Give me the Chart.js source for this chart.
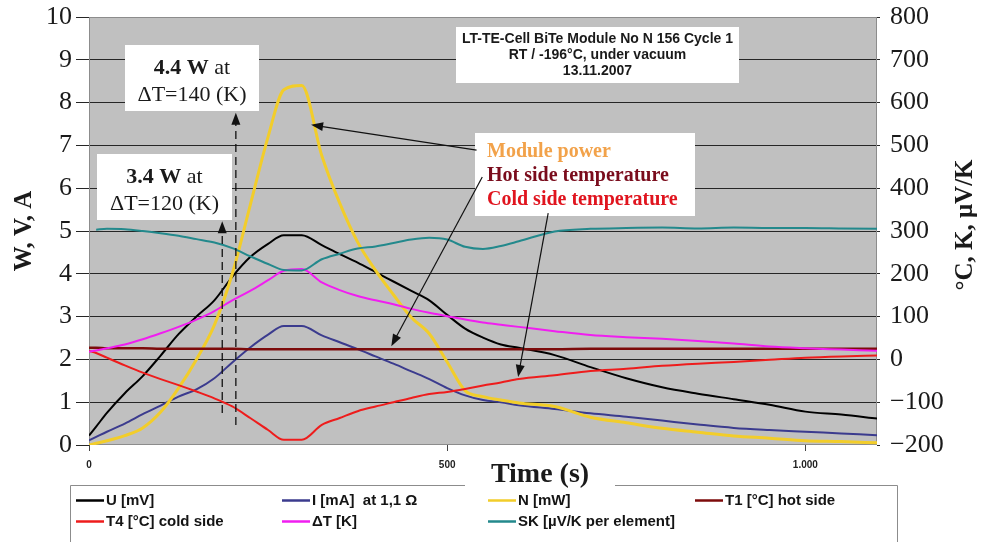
<!DOCTYPE html>
<html>
<head>
<meta charset="utf-8">
<title>LT-TE-Cell BiTe Module No N 156 Cycle 1</title>
<script src="https://cdn.jsdelivr.net/npm/chart.js@4.4.1/dist/chart.umd.min.js"></script>
<style>
  html, body { margin: 0; padding: 0; background: #fff; }
  canvas { display: block; }
</style>
</head>
<body>
<canvas id="chart" width="991" height="542"></canvas>
<script>
"use strict";

// Time (s) shared by every curve
const times = [0, 10, 25, 50, 75, 100, 125, 150, 175, 200, 225, 250, 272, 297, 325, 350, 375, 400,
    425, 450, 475, 500, 525, 550, 575, 600, 650, 700, 750, 800, 850, 900, 950, 1000, 1050, 1100];

// Left axis (W, V, A)
const uMV = [0.22, 0.43, 0.75, 1.21, 1.61, 2.09, 2.59, 3.0, 3.38, 3.93, 4.39, 4.7, 4.9, 4.9, 4.67, 4.46, 4.26, 4.04,
    3.82, 3.6, 3.38, 3.04, 2.72, 2.51, 2.35, 2.27, 2.1, 1.82, 1.56, 1.35, 1.2, 1.07, 0.94, 0.78, 0.71, 0.62];
const iMA = [0.11, 0.19, 0.31, 0.5, 0.72, 0.92, 1.13, 1.3, 1.56, 1.93, 2.28, 2.58, 2.78, 2.78, 2.56, 2.4, 2.24, 2.07,
    1.9, 1.72, 1.54, 1.33, 1.16, 1.05, 1.0, 0.93, 0.84, 0.74, 0.66, 0.57, 0.48, 0.4, 0.35, 0.31, 0.27, 0.23];
const nMW = [0, 0.04, 0.1, 0.22, 0.4, 0.77, 1.33, 2.0, 2.8, 4.0, 5.6, 7.2, 8.3, 8.4, 6.76, 5.65, 4.74, 4.08,
    3.51, 2.98, 2.6, 1.94, 1.27, 1.13, 1.05, 0.98, 0.9, 0.65, 0.52, 0.39, 0.3, 0.21, 0.16, 0.1, 0.08, 0.05];

// Right axis (°C, K, µV/K)
const t1Hot = [27, 27, 26, 26, 26, 25, 25, 25, 25, 25, 24, 24, 24, 24, 24, 24, 24, 24,
    24, 24, 24, 24, 24, 24, 24, 24, 24, 25, 25, 25, 25, 25, 25, 25, 25, 25];
const t4Cold = [20, 15, 4, -14, -31, -46, -60, -75, -91, -110, -137, -165, -188, -188, -153, -137, -121, -110,
    -100, -90, -81, -76, -69, -61, -54, -46, -37, -27, -22, -15, -10, -6, -1, 4, 7, 9];
const deltaT = [18, 21, 26, 35, 47, 61, 76, 93, 113, 138, 160, 185, 207, 211, 180, 162, 148, 138,
    129, 118, 109, 101, 93, 86, 81, 76, 66, 57, 52, 48, 43, 37, 30, 26, 23, 20];
const skSeebeck = [null, 303, 305, 304, 300, 295, 289, 281, 273, 260, 241, 223, 209, 208, 234, 247, 259, 264,
    272, 280, 284, 280, 263, 258, 265, 276, 299, 305, 307, 308, 306, 308, 307, 307, 306, 305];

const seriesLabels = ["U [mV]", "I [mA]  at 1,1 \u03A9", "N [mW]", "T1 [\u00B0C] hot side",
    "T4 [\u00B0C] cold side", "\u0394T [K]", "SK [\u00B5V/K per element]"];
const seriesColors = ["#000000", "#3b3b8e", "#f2cd2a", "#7d0b0b", "#ee1c1c", "#f01ef0", "#23898c"];

// Tick values
const xTicks = [0, 500, 1000];

// Axis texts
const xTitle = "Time (s)";
const leftTitle = "W, V, A";
const rightTitle = "\u00B0C, K, \u03BCV/K";

const SERIF = "'Liberation Serif', 'Times New Roman', serif";
const SANS = "'Liberation Sans', Arial, sans-serif";

function toPoints(values) {
    return times.map((t, i) => ({ x: t, y: values[i] }));
}

function makeSet(idx, values, axis, width) {
    return {
        label: seriesLabels[idx],
        data: toPoints(values),
        yAxisID: axis,
        borderColor: seriesColors[idx],
        backgroundColor: seriesColors[idx],
        borderWidth: width,
        pointRadius: 0,
        cubicInterpolationMode: "monotone",
        spanGaps: false,
        order: 7 - idx
    };
}

// Arrow head helper
function arrowHead(ctx, x0, y0, x1, y1, len, half) {
    const a = Math.atan2(y1 - y0, x1 - x0);
    const c = Math.cos(a), s = Math.sin(a);
    ctx.beginPath();
    ctx.moveTo(x1, y1);
    ctx.lineTo(x1 - len * c + half * s, y1 - len * s - half * c);
    ctx.lineTo(x1 - len * c - half * s, y1 - len * s + half * c);
    ctx.closePath();
    ctx.fill();
}

function arrow(ctx, x0, y0, x1, y1, dashed) {
    const a = Math.atan2(y1 - y0, x1 - x0);
    ctx.save();
    ctx.strokeStyle = "#111";
    ctx.fillStyle = "#111";
    ctx.lineWidth = dashed ? 1.3 : 1.2;
    if (dashed) ctx.setLineDash([8, 5]);
    ctx.beginPath();
    ctx.moveTo(x0, y0);
    ctx.lineTo(x1 - 10 * Math.cos(a), y1 - 10 * Math.sin(a));
    ctx.stroke();
    ctx.setLineDash([]);
    arrowHead(ctx, x0, y0, x1, y1, 12, 4.5);
    ctx.restore();
}

// Plot background and frame
const plotFrame = {
    id: "plotFrame",
    beforeDraw(chart) {
        const { ctx, chartArea: a } = chart;
        ctx.save();
        ctx.fillStyle = "#ffffff";
        ctx.fillRect(0, 0, chart.width, chart.height);
        ctx.fillStyle = "#c0c0c0";
        ctx.fillRect(a.left, a.top, a.right - a.left, a.bottom - a.top);
        ctx.restore();
    },
    beforeDatasetsDraw(chart) {
        const { ctx, chartArea: a } = chart;
        ctx.save();
        ctx.strokeStyle = "#8c8c8c";
        ctx.lineWidth = 1;
        ctx.strokeRect(a.left + 0.5, a.top + 0.5, a.right - a.left - 1, a.bottom - a.top - 1);
        ctx.restore();
    }
};

// Text boxes and arrows, placed through the scales
const annotations = {
    id: "annotations",
    afterDatasetsDraw(chart) {
        const { ctx } = chart;
        const sx = chart.scales.x, sy = chart.scales.y;
        const px = t => sx.getPixelForValue(t);
        const py = v => sy.getPixelForValue(v);

        function box(t0, t1, v0, v1) {
            const x = Math.round(px(t0)), y = Math.round(py(v0));
            const w = Math.round(px(t1)) - x, h = Math.round(py(v1)) - y;
            ctx.fillStyle = "#ffffff";
            ctx.fillRect(x, y, w, h);
            return { x, y, w, h, cx: x + w / 2 };
        }

        ctx.save();

        // measurement header
        let b = box(513, 908, 9.77, 8.46);
        ctx.fillStyle = "#1a1a1a";
        ctx.font = "bold 14px " + SANS;
        ctx.textAlign = "center";
        ctx.textBaseline = "alphabetic";
        ctx.fillText("LT-TE-Cell BiTe Module No N 156 Cycle 1", b.cx, b.y + 16);
        ctx.fillText("RT / -196\u00B0C, under vacuum", b.cx, b.y + 32);
        ctx.fillText("13.11.2007", b.cx, b.y + 48);

        // curve names box
        b = box(539, 846, 7.29, 5.35);
        ctx.textAlign = "left";
        ctx.font = "bold 20px " + SERIF;
        ctx.fillStyle = "#f2a24a";
        ctx.fillText("Module power", b.x + 12, b.y + 24);
        ctx.fillStyle = "#7a0c1c";
        ctx.fillText("Hot side temperature", b.x + 12, b.y + 48);
        ctx.fillStyle = "#e0141e";
        ctx.fillText("Cold side temperature", b.x + 12, b.y + 72);

        // power boxes
        function powerBox(t0, t1, v0, v1, watts, dt) {
            const bb = box(t0, t1, v0, v1);
            ctx.fillStyle = "#1a1a1a";
            ctx.font = "bold 22px " + SERIF;
            const w1 = ctx.measureText(watts).width;
            ctx.font = "22px " + SERIF;
            const w2 = ctx.measureText(" at").width;
            const start = bb.cx - (w1 + w2) / 2;
            ctx.textAlign = "left";
            ctx.font = "bold 22px " + SERIF;
            ctx.fillText(watts, start, bb.y + 29);
            ctx.font = "22px " + SERIF;
            ctx.fillText(" at", start + w1, bb.y + 29);
            ctx.textAlign = "center";
            ctx.fillText(dt, bb.cx, bb.y + 56);
        }
        powerBox(50, 237, 9.35, 7.8, "4.4 W", "\u0394T=140 (K)");
        powerBox(11, 200, 6.8, 5.26, "3.4 W", "\u0394T=120 (K)");

        // dashed arrows at the quoted temperature differences
        arrow(ctx, px(186), py(0.75), px(186), py(5.23), true);
        arrow(ctx, px(205), py(0.47), px(205), py(7.76), true);

        // pointers from the names to the curves
        arrow(ctx, px(541), py(6.89), px(310), py(7.48), false);
        arrow(ctx, px(549), py(6.26), px(422), py(2.31), false);
        arrow(ctx, px(641), py(5.42), px(599), py(1.59), false);

        ctx.restore();
    }
};

// Axis titles and the boxed legend
const frameTexts = {
    id: "frameTexts",
    afterDraw(chart) {
        const { ctx, chartArea: a } = chart;
        ctx.save();
        ctx.fillStyle = "#1a1a1a";
        ctx.textAlign = "center";
        ctx.textBaseline = "middle";
        ctx.font = "bold 25px " + SERIF;

        ctx.save();
        ctx.translate(a.left - 64, (a.top + a.bottom) / 2);
        ctx.rotate(-Math.PI / 2);
        ctx.fillText(leftTitle, 0, 0);
        ctx.restore();

        ctx.save();
        ctx.translate(a.right + 89, (a.top + a.bottom) / 2 - 6);
        ctx.rotate(-Math.PI / 2);
        ctx.fillText(rightTitle, 0, 0);
        ctx.restore();

        // legend frame, broken by the x title
        const lx0 = 70.5, lx1 = 897.5, ly = 485.5;
        ctx.strokeStyle = "#8c8c8c";
        ctx.lineWidth = 1;
        ctx.beginPath();
        ctx.moveTo(lx0, chart.height);
        ctx.lineTo(lx0, ly);
        ctx.lineTo(465, ly);
        ctx.moveTo(615, ly);
        ctx.lineTo(lx1, ly);
        ctx.lineTo(lx1, chart.height);
        ctx.stroke();

        ctx.font = "bold 28px " + SERIF;
        ctx.textBaseline = "alphabetic";
        ctx.fillText(xTitle, 540, 482);

        // legend entries, 4 per row
        const cols = [76, 282, 488, 695];
        const rows = [500.5, 521.5];
        ctx.font = "bold 15px " + SANS;
        ctx.textAlign = "left";
        ctx.textBaseline = "middle";
        chart.data.datasets.forEach((ds, i) => {
            const x = cols[i % 4], y = rows[Math.floor(i / 4)];
            ctx.strokeStyle = ds.borderColor;
            ctx.lineWidth = 2.5;
            ctx.beginPath();
            ctx.moveTo(x, y);
            ctx.lineTo(x + 28, y);
            ctx.stroke();
            ctx.fillStyle = "#141414";
            ctx.fillText(ds.label, x + 30, y);
        });
        ctx.restore();
    }
};

// keep the tick label overhang from pushing the plot down
function fixVertical(width) {
    return function (scale) {
        scale.width = width;
        scale.paddingTop = 0;
        scale.paddingBottom = 0;
    };
}

Chart.defaults.font.family = SANS;
Chart.defaults.color = "#1a1a1a";

const ctx = document.getElementById("chart").getContext("2d");
new Chart(ctx, {
    type: "line",
    data: {
        datasets: [
            makeSet(0, uMV, "y", 2),
            makeSet(1, iMA, "y", 2),
            makeSet(2, nMW, "y", 3),
            makeSet(3, t1Hot, "y2", 2.5),
            makeSet(4, t4Cold, "y2", 2),
            makeSet(5, deltaT, "y2", 2),
            makeSet(6, skSeebeck, "y2", 2)
        ]
    },
    options: {
        responsive: false,
        animation: false,
        events: [],
        layout: { padding: { top: 17, left: 0, right: 0, bottom: 0 } },
        plugins: {
            legend: { display: false },
            tooltip: { enabled: false }
        },
        scales: {
            x: {
                type: "linear",
                min: 0,
                max: 1100,
                afterBuildTicks(scale) {
                    scale.ticks = xTicks.map(v => ({ value: v }));
                },
                ticks: {
                    padding: 8,
                    maxRotation: 0,
                    autoSkip: false,
                    font: { family: SANS, size: 10, weight: "bold" },
                    color: "#222",
                    callback: v => v.toLocaleString("de-DE")
                },
                grid: { drawOnChartArea: false, tickLength: 6, color: "#444" },
                border: { display: false },
                afterFit(scale) {
                    scale.height = 97;
                    scale.paddingLeft = 0;
                    scale.paddingRight = 0;
                }
            },
            y: {
                position: "left",
                min: 0,
                max: 10,
                ticks: {
                    stepSize: 1,
                    padding: 4,
                    font: { family: SERIF, size: 26, lineHeight: 1 },
                    color: "#1a1a1a"
                },
                grid: {
                    tickLength: 13,
                    lineWidth: 1,
                    color: c => (c.tick.value === 0 || c.tick.value === 10) ? "rgba(0,0,0,0)" : "#262626",
                    tickColor: "#262626"
                },
                border: { display: false },
                afterFit: fixVertical(89)
            },
            y2: {
                position: "right",
                min: -200,
                max: 800,
                ticks: {
                    stepSize: 100,
                    padding: 10,
                    font: { family: SERIF, size: 26, lineHeight: 1 },
                    color: "#1a1a1a",
                    callback: v => v < 0 ? "\u2212" + Math.abs(v) : String(v)
                },
                grid: { drawOnChartArea: false, tickLength: 3, color: "#262626" },
                border: { display: false },
                afterFit: fixVertical(114)
            }
        }
    },
    plugins: [plotFrame, annotations, frameTexts]
});
</script>
</body>
</html>
